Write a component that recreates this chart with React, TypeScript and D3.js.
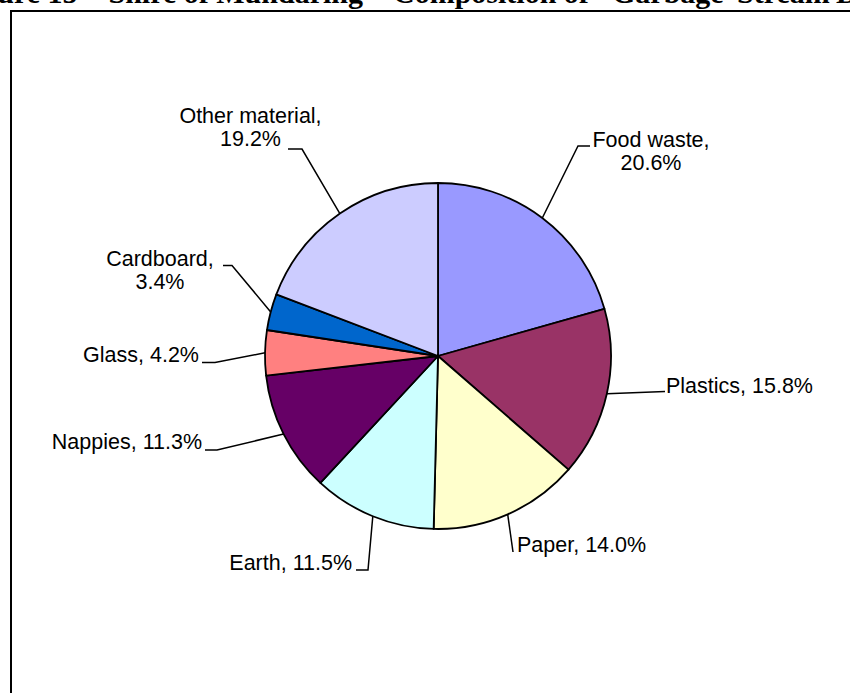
import React from "react";
import * as d3 from "d3";

const categories = ["Food waste", "Plastics", "Paper", "Earth", "Nappies", "Glass", "Cardboard", "Other material"];
const values = [20.6, 15.8, 14.0, 11.5, 11.3, 4.2, 3.4, 19.2];
const colors = ["#9999FF", "#993366", "#FFFFCC", "#CCFFFF", "#660066", "#FF8080", "#0066CC", "#CCCCFF"];
const titleWords = ["Figure 15 –", "Shire of Mundaring", "-", "Composition of", "Garbage", "Stream", "By Weight"];

// layout only (title word positions: [x, anchor])
const titlePos: [number, string][] = [
  [100, "end"], [363, "end"], [376, "start"], [393, "start"], [612, "start"], [737, "start"], [836, "start"],
];

type Lay = { x: number; y: number; anchor: string; twoLine: boolean; pts: [number, number][] };
const layout: Lay[] = [
  { x: 651, y: 147, anchor: "middle", twoLine: true, pts: [[578, 146], [590, 146]] },
  { x: 666, y: 392.5, anchor: "start", twoLine: false, pts: [[665, 391.5]] },
  { x: 517, y: 552, anchor: "start", twoLine: false, pts: [[513, 552]] },
  { x: 352, y: 569.5, anchor: "end", twoLine: false, pts: [[368, 570], [356, 570]] },
  { x: 202, y: 449, anchor: "end", twoLine: false, pts: [[217, 450], [205, 450]] },
  { x: 199, y: 362, anchor: "end", twoLine: false, pts: [[215, 362.5], [202, 362.5]] },
  { x: 160, y: 266, anchor: "middle", twoLine: true, pts: [[232, 265.5], [223, 265.5]] },
  { x: 250.5, y: 123.3, anchor: "middle", twoLine: true, pts: [[302, 149], [288, 149]] },
];

const W = 850, H = 693;
const cx = 438, cy = 356, R = 173;

export default function App() {
  const data = categories.map((c, i) => ({ c, v: values[i], color: colors[i] }));
  const pie = d3.pie<any>().value((d: any) => d.v).sort(null).startAngle(0).endAngle(2 * Math.PI);
  const arcs = pie(data);
  const arc = d3.arc<any>().innerRadius(0).outerRadius(R);
  const line = d3.line();
  const fmt = d3.format(".1f");

  return (
    <svg width={W} height={H} style={{ position: "absolute", left: 0, top: 0, background: "#fff" }}>
      <rect x={0} y={0} width={W} height={H} fill="#fff" />
      {titleWords.map((w, i) => (
        <text key={"t" + i} x={titlePos[i][0]} y={3} textAnchor={titlePos[i][1]}
          fontFamily="'Liberation Serif', 'Times New Roman', serif" fontWeight="bold" fontSize={30} fill="#000">{w}</text>
      ))}
      <rect x={11} y={11} width={W + 20} height={H + 20} fill="none" stroke="#000" strokeWidth={2} />
      <g transform={`translate(${cx},${cy})`}>
        {arcs.map((a, i) => (
          <path key={i} d={arc(a) as string} fill={a.data.color} stroke="#000" strokeWidth={1.8} strokeLinejoin="round" />
        ))}
      </g>
      {arcs.map((a, i) => {
        const m = (a.startAngle + a.endAngle) / 2;
        const ex = cx + R * Math.sin(m);
        const ey = cy - R * Math.cos(m);
        const L = layout[i];
        const pts: [number, number][] = [[ex, ey], ...L.pts];
        const name = a.data.c;
        const val = fmt(a.data.v) + "%";
        return (
          <g key={"l" + i}>
            <path d={line(pts) as string} fill="none" stroke="#000" strokeWidth={1.5} />
            <text x={L.x} y={L.y} textAnchor={L.anchor} fontFamily="'Liberation Sans', Arial, sans-serif" fontSize={21.5} fill="#000">
              {L.twoLine ? (
                <>
                  <tspan x={L.x} y={L.y}>{name + ","}</tspan>
                  <tspan x={L.x} y={L.y + 23}>{val}</tspan>
                </>
              ) : (
                name + ", " + val
              )}
            </text>
          </g>
        );
      })}
    </svg>
  );
}
